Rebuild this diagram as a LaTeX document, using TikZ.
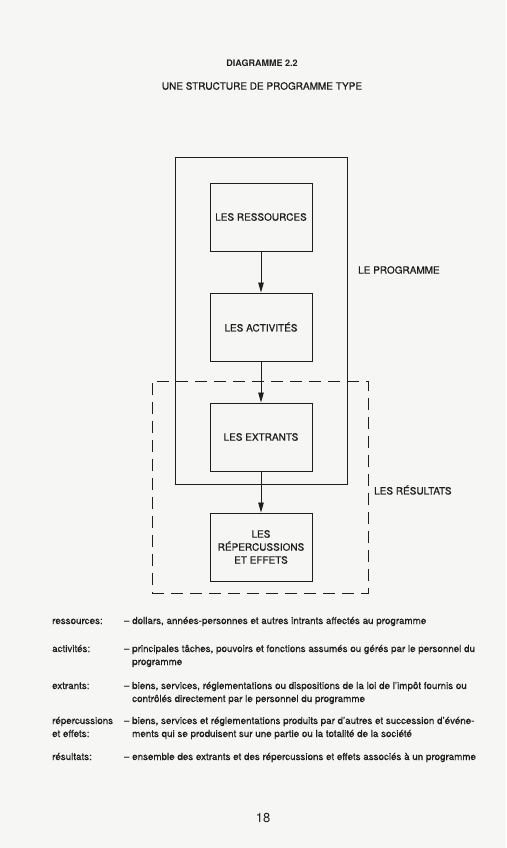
\documentclass[tikz,border=0pt]{standalone}
\usepackage{fontspec}
\setmainfont{TeX Gyre Heros}[UprightFeatures={FakeBold=0.5}]
\newfontfamily\folio{TeX Gyre Heros}
\usetikzlibrary{arrows.meta}
\definecolor{paper}{RGB}{246,246,244}
\definecolor{ink}{RGB}{30,30,30}

\begin{document}
\begin{tikzpicture}[
  x=1pt, y=-1pt,
  block/.style={rectangle, draw=ink, line width=1pt, minimum width=102pt, minimum height=68pt, align=center, font=\fontsize{10}{13}\selectfont},
  frame/.style={rectangle, draw=ink, line width=1pt},
  dashframe/.style={rectangle, draw=ink, line width=0.9pt, dash pattern=on 12pt off 7pt},
  caps/.style={inner sep=0pt, font=\fontsize{10}{12}\selectfont},
  term/.style={anchor=base west, inner sep=0pt, font=\fontsize{9.8}{13}\selectfont},
  defn/.style={anchor=base west, inner sep=0pt, align=left, font=\fontsize{9.8}{13}\selectfont},
  arr/.style={-{Triangle[length=10pt,width=5.5pt]}, draw=ink, line width=0.8pt},
  node distance=110pt,
  every node/.style={text=ink}
]
\fill[paper] (0,0) rectangle (506,848);
\useasboundingbox (0,0) rectangle (506,848);

% Titles
\node[caps, font=\bfseries\fontsize{9}{11}\selectfont] (diag) at (262,63) {DIAGRAMME 2.2};
\node[caps] (titre) at (262,86) {UNE STRUCTURE DE PROGRAMME TYPE};

% Frames
\node[frame, minimum width=172pt, minimum height=327pt] (prog) at (261,320.5) {};
\node[dashframe, minimum width=216pt, minimum height=212pt] (resu) at (260,487) {};
\node[caps, anchor=west] (lprog) at (358,270) {LE PROGRAMME};
\node[caps, anchor=west] (lresu) at (374,490) {LES RÉSULTATS};

% Chain
\node[block] (res) at (261,217) {LES RESSOURCES};
\node[block, below of=res] (act) {LES ACTIVITÉS};
\node[block, below of=act] (ext) {LES EXTRANTS};
\node[block, below of=ext] (rep) {LES\\RÉPERCUSSIONS\\ET EFFETS};

\draw[arr] (res) -- (act);
\draw[arr] (act) -- (ext);
\draw[arr] (ext) -- (rep);

% Legend (two-line entries sit on their last line)
\node[term] (tres) at (52,624) {ressources:};
\node[defn] (dres) at (132,624) {\llap{– }dollars, années-personnes et autres intrants affectés au programme};
\node[term] (tact) at (52,652) {activités:};
\node[defn] (dact) at (132,665) {\llap{– }principales tâches, pouvoirs et fonctions assumés ou gérés par le personnel du\\programme};
\node[term] (text) at (52,689) {extrants:};
\node[defn] (dext) at (132,702) {\llap{– }biens, services, réglementations ou dispositions de la loi de l’impôt fournis ou\\contrôlés directement par le personnel du programme};
\node[term, align=left] (trep) at (52,737) {répercussions\\et effets:};
\node[defn] (drep) at (132,737) {\llap{– }biens, services et réglementations produits par d’autres et succession d’événe-\\ments qui se produisent sur une partie ou la totalité de la société};
\node[term] (tresu) at (52,760) {résultats:};
\node[defn] (dresu) at (132,760) {\llap{– }ensemble des extrants et des répercussions et effets associés à un programme};

% Page number
\node[caps, font=\folio\fontsize{13}{15}\selectfont] (page) at (263,818) {18};
\end{tikzpicture}
\end{document}
